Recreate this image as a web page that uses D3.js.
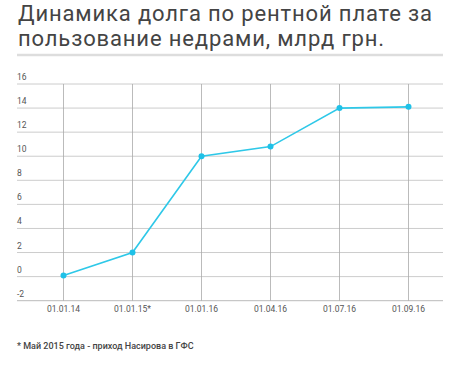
<!DOCTYPE html>
<html><head><meta charset="utf-8">
<script src="https://cdn.jsdelivr.net/npm/d3@7"></script>
<style>
html,body{margin:0;padding:0;background:#fff;}
svg{display:block;font-family:Roboto, "Noto Sans", sans-serif;}
</style></head>
<body>
<svg id="c" width="450" height="369"></svg>
<script>
const categories = ["01.01.14","01.01.15*","01.01.16","01.04.16","01.07.16","01.09.16"];
const values = [0.1, 2.0, 10.0, 10.8, 14.0, 14.1];
const yTicks = [-2,0,2,4,6,8,10,12,14,16];
const titleLines = ["Динамика долга по рентной плате за","пользование недрами, млрд грн."];
const footnote = "* Май 2015 года - приход Насирова в ГФС";

(function(){
const svg = d3.select("#c");
const mLeft = 17, mRight = 443, mTop = 84, mBottom = 300.7;

const title = svg.selectAll("text.title").data(titleLines).enter().append("text")
  .attr("class","title")
  .attr("x", mLeft + 1).attr("y",(d,i)=>20.5 + i*25)
  .attr("font-size", 22).attr("fill","#444")
  .text(d=>d);
const first = title.nodes()[0];
const w = first.getComputedTextLength();
const target = 414;
if (w > 0 && w < target) {
  const ls = (target - w) / (titleLines[0].length - 1);
  title.attr("letter-spacing", ls);
}

svg.append("line").attr("x1",mLeft).attr("x2",mRight).attr("y1",55).attr("y2",55)
  .attr("stroke","#ddd").attr("stroke-width",2.5);

const x = d3.scalePoint().domain(categories).range([29,443]).padding(0.5);
const y = d3.scaleLinear().domain([-2,16]).range([mBottom, mTop]);

const gy = svg.append("g");
gy.selectAll("line").data(yTicks).enter().append("line")
  .attr("x1",mLeft).attr("x2",mRight)
  .attr("y1",d=>y(d)).attr("y2",d=>y(d))
  .attr("stroke",d=>d===-2?"#bbb":"#ccc").attr("stroke-width",1);
gy.selectAll("text").data(yTicks).enter().append("text")
  .attr("x",mLeft).attr("y",d=>y(d)-4)
  .attr("font-size",8.5).attr("fill","#555")
  .text(d=>d);

svg.append("g").selectAll("line").data(categories).enter().append("line")
  .attr("x1",d=>x(d)).attr("x2",d=>x(d))
  .attr("y1",mTop).attr("y2",mBottom)
  .attr("stroke","#aaa").attr("stroke-width",0.8);

svg.append("g").selectAll("text").data(categories).enter().append("text")
  .attr("x",d=>x(d)).attr("y",312)
  .attr("text-anchor","middle").attr("font-size",8.5).attr("fill","#555")
  .text(d=>d);

const data = categories.map((c,i)=>({c, v: values[i]}));
svg.append("path").datum(data)
  .attr("fill","none").attr("stroke","#2ec8e8").attr("stroke-width",1.6)
  .attr("d", d3.line().x(d=>x(d.c)).y(d=>y(d.v)));
svg.append("g").selectAll("circle").data(data).enter().append("circle")
  .attr("cx",d=>x(d.c)).attr("cy",d=>y(d.v)).attr("r",3)
  .attr("fill","#1fc1e8");

svg.append("text").attr("x",mLeft).attr("y",348.5)
  .attr("font-size",9).attr("font-weight",500).attr("fill","#444")
  .text(footnote);
})();
</script>
</body></html>
